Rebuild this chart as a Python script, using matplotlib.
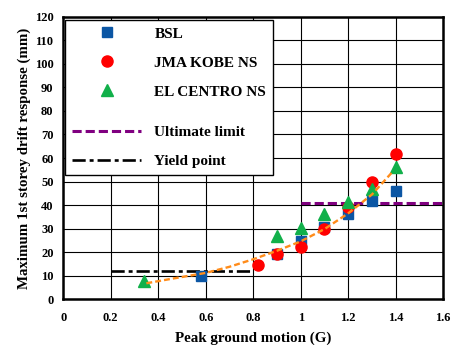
import matplotlib
matplotlib.use('Agg')
import matplotlib.pyplot as plt
from matplotlib.lines import Line2D
from matplotlib.offsetbox import VPacker

plt.rcParams['font.family'] = ['Liberation Serif', 'DejaVu Serif']
plt.rcParams['font.weight'] = 'bold'

# данные
bsl_x = [0.58, 0.9, 1.0, 1.1, 1.2, 1.3, 1.4]
bsl_y = [10.0, 19.2, 24.6, 30.6, 36.2, 41.7, 46.1]
kobe_x = [0.82, 0.9, 1.0, 1.1, 1.2, 1.3, 1.4]
kobe_y = [14.6, 19.1, 22.4, 30.0, 39.3, 49.8, 61.8]
elc_x = [0.34, 0.9, 1.0, 1.1, 1.2, 1.3, 1.4]
elc_y = [7.8, 27.0, 30.4, 36.1, 41.5, 46.8, 56.3]
# trend line
trend_x = [0.35, 0.45, 0.6, 0.7, 0.8, 0.9, 1.0, 1.1, 1.2, 1.3, 1.39]
trend_y = [6.8, 8.6, 11.2, 13.8, 17.0, 20.6, 24.6, 29.8, 36.5, 44.5, 54.5]
ult_x = [1.0, 1.6]
ult_y = [41, 41]
yld_x = [0.2, 0.8]
yld_y = [12, 12]
xticks = [0, 0.2, 0.4, 0.6, 0.8, 1.0, 1.2, 1.4, 1.6]
xtick_labels = ['0', '0.2', '0.4', '0.6', '0.8', '1', '1.2', '1.4', '1.6']
yticks = list(range(0, 121, 10))

fig = plt.figure(figsize=(4.55, 3.45), dpi=100)
ax = fig.add_axes([0.139, 0.1325, 0.835, 0.819])

ax.plot(ult_x, ult_y, color='#800080', lw=2.2, dashes=(3, 1.3), zorder=2)
ax.plot(yld_x, yld_y, color='black', lw=1.9, dashes=(5, 1.5, 1.5, 1.5), zorder=2)
ax.plot(bsl_x, bsl_y, ls='', marker='s', ms=7.5, color='#0B56A4', zorder=3)
ax.plot(kobe_x, kobe_y, ls='', marker='o', ms=8, color='#FF0000', zorder=3)
ax.plot(elc_x, elc_y, ls='', marker='^', ms=8.5, color='#11B04A', zorder=3)
ax.plot(trend_x, trend_y, color='#FF8C1A', lw=1.7, dashes=(2.5, 1.3), zorder=4)

ax.set_xlim(0, 1.6)
ax.set_ylim(0, 120)
ax.set_xticks(xticks)
ax.set_xticklabels(xtick_labels)
ax.set_yticks(yticks)
ax.tick_params(length=0, labelsize=9)
ax.tick_params(axis='x', pad=9)
ax.tick_params(axis='y', pad=7)
ax.grid(True, color='black', lw=0.8)
ax.set_axisbelow(True)
for s in ax.spines.values():
    s.set_linewidth(1.8)

ax.set_xlabel('Peak ground motion (G)', fontsize=10.8, fontweight='bold', labelpad=5.5)
ax.set_ylabel('Maximum 1st storey drift response (mm)', fontsize=10.7, fontweight='bold', labelpad=3)

handles = [
    Line2D([], [], ls='', marker='s', ms=7.5, color='#0B56A4'),
    Line2D([], [], ls='', marker='o', ms=8, color='#FF0000'),
    Line2D([], [], ls='', marker='^', ms=8.5, color='#11B04A'),
    Line2D([], [], color='#800080', lw=2.2, dashes=(3, 1.3)),
    Line2D([], [], color='black', lw=1.9, dashes=(5, 1.5, 1.5, 1.5)),
]
labels = ['BSL', 'JMA KOBE NS', 'EL CENTRO NS', 'Ultimate limit', 'Yield point']
leg = ax.legend(handles, labels, loc='upper left', bbox_to_anchor=(0.0045, 0.988),
                fancybox=False, framealpha=1, edgecolor='black', handlelength=4.55,
                handletextpad=0.85, labelspacing=1.0, borderaxespad=0,
                borderpad=0.45, prop={'weight': 'bold', 'size': 11})
leg.get_frame().set_linewidth(1.0)

# пустое место между маркерами и линиями в легенде
col = leg._legend_handle_box.get_children()[0]
rows = col.get_children()
col._children = [VPacker(children=rows[:3], sep=col.sep, align='left', pad=0),
                 VPacker(children=rows[3:], sep=col.sep, align='left', pad=0)]
col.sep = col.sep + 8.3

fig.savefig('out.png', dpi=100)
